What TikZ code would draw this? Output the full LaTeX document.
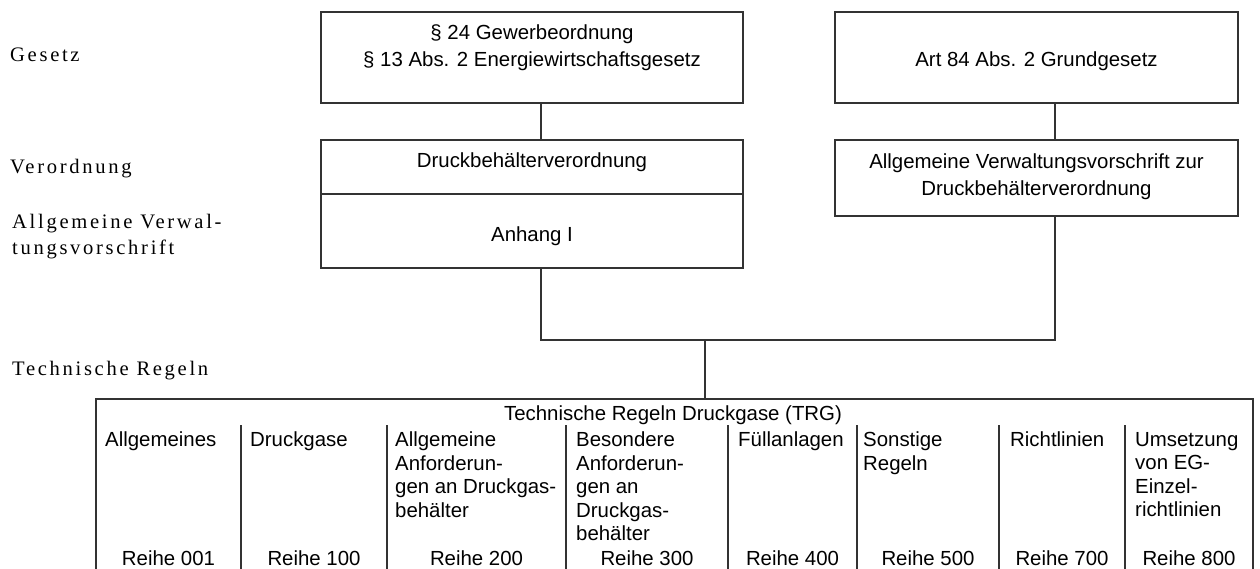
\documentclass[tikz,border=0pt]{standalone}
\usepackage{fontspec}
\newfontfamily\arial{Liberation Sans}
\newfontfamily\tnr[LetterSpace=13]{Liberation Serif}
\definecolor{linec}{gray}{0.2}
\begin{document}
\begin{tikzpicture}[x=1pt,y=-1pt,
  box/.style={draw=linec, line width=1.4pt, inner sep=0pt, outer sep=0pt, anchor=north west},
  sans/.style={font=\arial\fontsize{20.4}{23.4}\selectfont, inner sep=0pt, text=black},
  sanswide/.style={font=\arial\fontsize{20.4}{26.5}\selectfont, inner sep=0pt, text=black},
  lbl/.style={font=\tnr\fontsize{20.6}{26}\selectfont, inner sep=0pt, text=black},
  col/.style={sans, anchor=north west, align=left},
  reihe/.style={sans, anchor=base},
  conn/.style={draw=linec, line width=1.4pt}]
\path[use as bounding box, clip] (0,0) rectangle (1260,569);
% left level labels
\node[lbl, anchor=base west] (lg) at (10,62) {Gesetz};
\node[lbl, anchor=base west] (lv) at (10,174) {Verordnung};
\node[lbl, anchor=north west, align=left] (la) at (12,214) {Allgemeine Verwal-\\tungsvorschrift};
\node[lbl, anchor=base west] (lt) at (12,375) {Technische Regeln};
% boxes
\node[box, minimum width=422pt, minimum height=91pt] (g1) at (321,12) {};
\node[box, minimum width=403pt, minimum height=91pt] (g2) at (835,12) {};
\node[box, minimum width=422pt, minimum height=54pt] (v1) at (321,140) {};
\node[box, minimum width=422pt, minimum height=74pt] (a1) at (321,194) {};
\node[box, minimum width=403pt, minimum height=76pt] (v2) at (835,140) {};
\node[box, minimum width=1157pt, minimum height=220pt] (trg) at (96,399) {};
% box texts
\node[sanswide, anchor=north, align=center] (g1t) at (532,25) {§ 24 Gewerbeordnung\\§ 13 Abs. 2 Energiewirtschaftsgesetz};
\node[sans, anchor=base] (g2t) at (1036.5,67) {Art 84 Abs. 2 Grundgesetz};
\node[sans, anchor=base] (v1t) at (532,168) {Druckbehälterverordnung};
\node[sans, anchor=base] (a1t) at (532,242) {Anhang I};
\node[sanswide, anchor=north, align=center] (v2t) at (1036.5,154) {Allgemeine Verwaltungsvorschrift zur\\Druckbehälterverordnung};
% connectors
\coordinate (jl) at (541,340);
\coordinate (jr) at (1055,340);
\coordinate (jm) at (705,340);
\draw[conn] (g1.south -| jl) -- (v1.north -| jl);
\draw[conn] (g2.south -| jr) -- (v2.north -| jr);
\draw[conn] (a1.south -| jl) -- (jl) -- (jr) -- (v2.south -| jr);
\draw[conn] (jm) -- (trg.north -| jm);
% table
\node[sans, anchor=base] (trgt) at (673,420) {Technische Regeln Druckgase (TRG)};
\foreach \x in {241,387,566,728,857,999,1125}
  \draw[conn] (\x,425) -- (\x,600);
\node[col] (c1) at (105,432) {Allgemeines};
\node[col] (c2) at (250,432) {Druckgase};
\node[col] (c3) at (395,432) {Allgemeine\\Anforderun-\\gen an Druckgas-\\behälter};
\node[col] (c4) at (576,432) {Besondere\\Anforderun-\\gen an\\Druckgas-\\behälter};
\node[col] (c5) at (738,432) {Füllanlagen};
\node[col] (c6) at (863,432) {Sonstige\\Regeln};
\node[col] (c7) at (1010,432) {Richtlinien};
\node[col] (c8) at (1135,432) {Umsetzung\\von EG-\\Einzel-\\richtlinien};
\node[reihe] (r1) at (168.5,565) {Reihe 001};
\node[reihe] (r2) at (314,565) {Reihe 100};
\node[reihe] (r3) at (476.5,565) {Reihe 200};
\node[reihe] (r4) at (647,565) {Reihe 300};
\node[reihe] (r5) at (792.5,565) {Reihe 400};
\node[reihe] (r6) at (928,565) {Reihe 500};
\node[reihe] (r7) at (1062,565) {Reihe 700};
\node[reihe] (r8) at (1189,565) {Reihe 800};
\end{tikzpicture}
\end{document}
